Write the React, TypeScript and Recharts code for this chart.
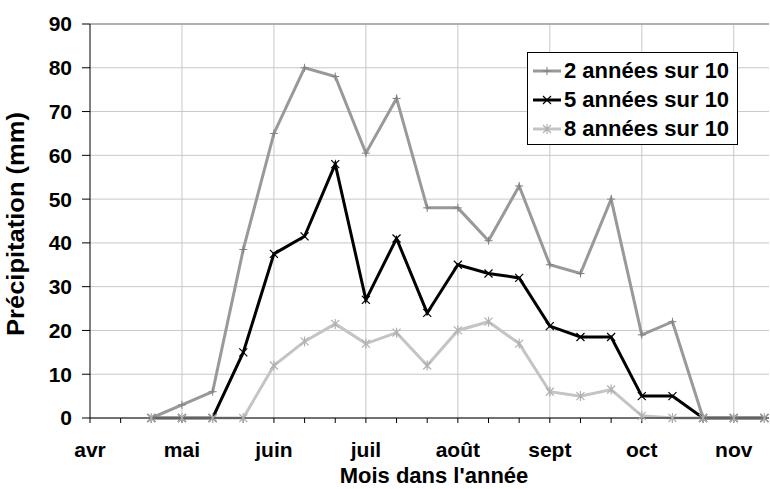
import {
  LineChart,
  Line,
  XAxis,
  YAxis,
  CartesianGrid,
  Legend,
  Label,
  ReferenceLine
} from 'recharts';

// décades (3 par mois), les valeurs commencent à la 3e décade d'avril
const months = ['avr', 'mai', 'juin', 'juil', 'août', 'sept', 'oct', 'nov'];
const firstDecade = 2;
const deuxAnnees = [0, 3, 6, 38.5, 65, 80, 78, 60.5, 73, 48, 48, 40.5, 53, 35, 33, 50, 19, 22, 0, 0, 0];
const cinqAnnees = [0, 0, 0, 15, 37.5, 41.5, 58, 27, 41, 24, 35, 33, 32, 21, 18.5, 18.5, 5, 5, 0, 0, 0];
const huitAnnees = [0, 0, 0, 0, 12, 17.5, 21.5, 17, 19.5, 12, 20, 22, 17, 6, 5, 6.5, 0.5, 0, 0, 0, 0];
const yTicks = [0, 10, 20, 30, 40, 50, 60, 70, 80, 90];

const FONT = '"Liberation Sans", Arial, sans-serif';
const C_DEUX = '#999999';
const C_CINQ = '#000000';
const C_HUIT = '#c4c4c4';

const data = deuxAnnees.map((v, i) => ({
  decade: firstDecade + i,
  deux: v,
  cinq: cinqAnnees[i],
  huit: huitAnnees[i]
}));

const xTicks = Array.from({ length: 23 }, (_, i) => i);
const monthGrid = xTicks.filter((i) => i > 0 && i % 3 === 0);

const PlusDot = (props: any) => {
  const { cx, cy } = props;
  if (cx == null || cy == null) return null;
  return (
    <path d={`M${cx - 4},${cy}L${cx + 4},${cy}M${cx},${cy - 4}L${cx},${cy + 4}`} stroke="#808080" strokeWidth={1} />
  );
};

const CrossDot = (props: any) => {
  const { cx, cy } = props;
  if (cx == null || cy == null) return null;
  return (
    <path d={`M${cx - 4},${cy - 4}L${cx + 4},${cy + 4}M${cx - 4},${cy + 4}L${cx + 4},${cy - 4}`} stroke="#000" strokeWidth={1.2} />
  );
};

const StarDot = (props: any) => {
  const { cx, cy } = props;
  if (cx == null || cy == null) return null;
  return (
    <path
      d={`M${cx - 4},${cy - 4}L${cx + 4},${cy + 4}M${cx - 4},${cy + 4}L${cx + 4},${cy - 4}M${cx},${cy - 5}L${cx},${cy + 5}`}
      stroke="#b0b0b0"
      strokeWidth={1.2}
    />
  );
};

const legendItems = [
  { label: '2 années sur 10', color: C_DEUX, dot: PlusDot },
  { label: '5 années sur 10', color: C_CINQ, dot: CrossDot },
  { label: '8 années sur 10', color: C_HUIT, dot: StarDot }
];

const renderLegend = () => (
  <div
    style={{
      border: '1px solid #000',
      background: '#fff',
      width: 209,
      height: 88,
      boxSizing: 'content-box',
      fontFamily: FONT,
      fontWeight: 'bold',
      fontSize: 22,
      paddingTop: 3,
      whiteSpace: 'nowrap'
    }}
  >
    {legendItems.map((it) => {
      const Dot = it.dot;
      return (
        <div key={it.label} style={{ display: 'flex', alignItems: 'center', height: 29, lineHeight: '29px' }}>
          <svg width={32} height={12} style={{ marginLeft: 4 }}>
            <line x1={1} y1={6} x2={29} y2={6} stroke={it.color} strokeWidth={3} />
            <Dot cx={15} cy={6} />
          </svg>
          <span style={{ color: '#000' }}>{it.label}</span>
        </div>
      );
    })}
  </div>
);

export default function App() {
  const tickStyle = { fill: '#000', fontSize: 21, fontWeight: 'bold', fontFamily: FONT };
  return (
    <div style={{ position: 'fixed', left: 0, top: 0, width: 770, height: 489, background: '#fff' }}>
      <LineChart width={770} height={489} data={data} margin={{ top: 24, right: 1, left: 0, bottom: 0 }}>
        <CartesianGrid stroke="#c8c8c8" strokeWidth={1} verticalValues={monthGrid} />
        <ReferenceLine y={90} stroke="#a0a0a0" strokeWidth={1.5} />
        <XAxis
          type="number"
          dataKey="decade"
          domain={[0, 22.15]}
          ticks={xTicks}
          interval={0}
          allowDataOverflow
          height={71}
          tickSize={5}
          tickMargin={19}
          tickFormatter={(v: number) => (v % 3 === 0 ? months[v / 3] : '')}
          stroke="#000"
          tick={tickStyle}
        >
          <Label
            content={() => (
              <text x={434} y={483} textAnchor="middle" fontFamily={FONT} fontWeight="bold" fontSize={22} fill="#000">
                Mois dans l'année
              </text>
            )}
          />
        </XAxis>
        <YAxis
          domain={[0, 90]}
          ticks={yTicks}
          interval={0}
          width={90}
          tickSize={8}
          tickMargin={10}
          stroke="#000"
          tick={tickStyle}
        >
          <Label
            content={() => (
              <text
                x={24}
                y={224}
                transform="rotate(-90 24 224)"
                textAnchor="middle"
                fontFamily={FONT}
                fontWeight="bold"
                fontSize={23}
                textLength={224}
                lengthAdjust="spacingAndGlyphs"
                fill="#000"
              >
                Précipitation (mm)
              </text>
            )}
          />
        </YAxis>
        <Legend
          layout="horizontal"
          verticalAlign="middle"
          align="center"
          content={renderLegend}
          wrapperStyle={{ left: 527, top: 52, width: 211, height: 92 }}
        />
        <Line
          type="linear"
          dataKey="deux"
          name="2 années sur 10"
          stroke={C_DEUX}
          strokeWidth={3}
          dot={<PlusDot />}
          activeDot={false}
          isAnimationActive={false}
        />
        <Line
          type="linear"
          dataKey="cinq"
          name="5 années sur 10"
          stroke={C_CINQ}
          strokeWidth={3}
          dot={<CrossDot />}
          activeDot={false}
          isAnimationActive={false}
        />
        <Line
          type="linear"
          dataKey="huit"
          name="8 années sur 10"
          stroke={C_HUIT}
          strokeWidth={3}
          dot={<StarDot />}
          activeDot={false}
          isAnimationActive={false}
        />
      </LineChart>
    </div>
  );
}
